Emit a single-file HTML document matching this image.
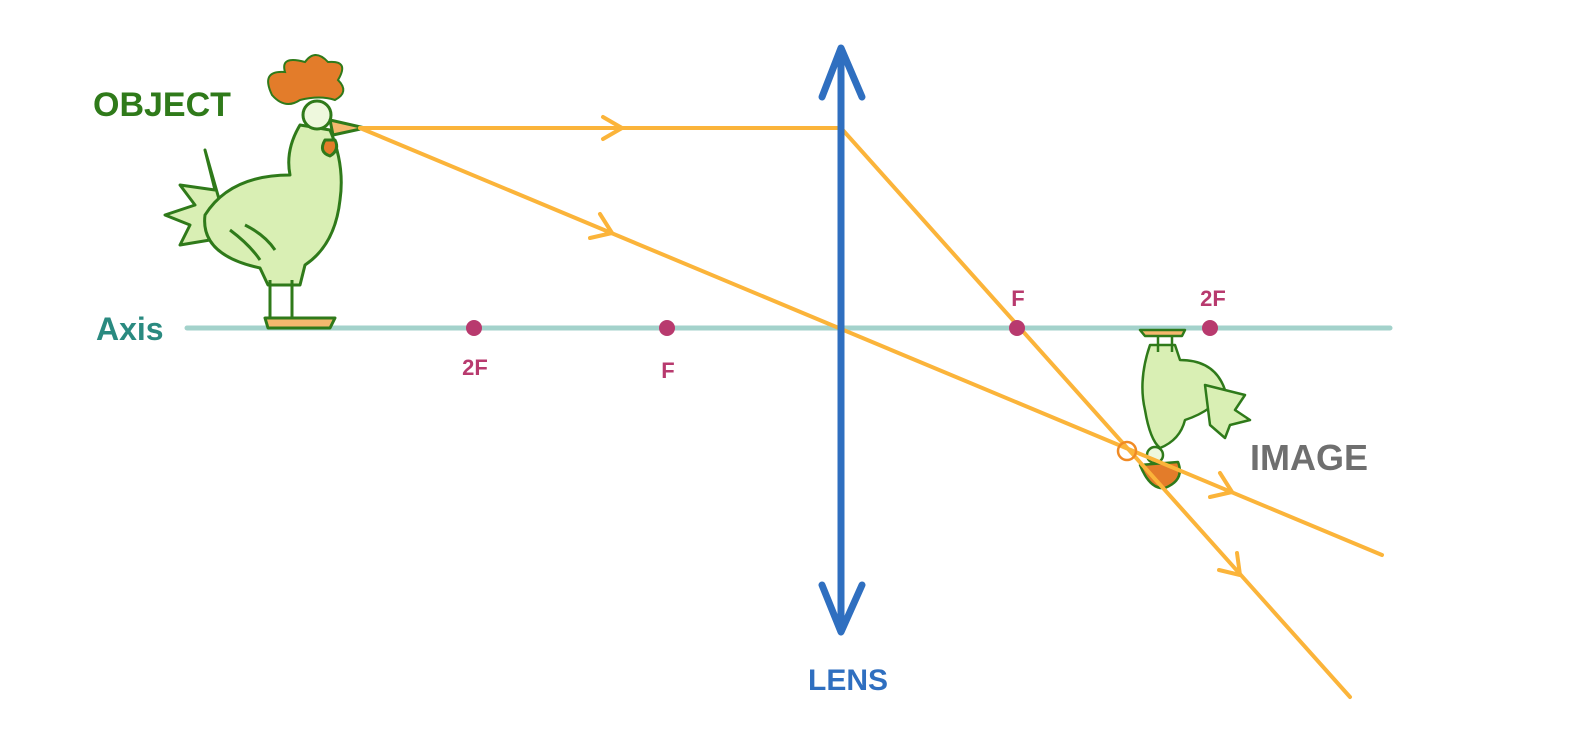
<!DOCTYPE html>
<html><head><style>html,body{margin:0;padding:0;background:#fff}svg{display:block}</style></head>
<body>
<svg width="1576" height="734" viewBox="0 0 1576 734" xmlns="http://www.w3.org/2000/svg" font-family="Liberation Sans, sans-serif" font-weight="bold">
<rect width="1576" height="734" fill="#fff"/>
<line x1="187" y1="328" x2="1390" y2="328" stroke="#a3d2cb" stroke-width="5" stroke-linecap="round"/>
<g stroke="#2f7a1a" stroke-width="3" stroke-linejoin="round" fill="#d9efb4">
 <path d="M205 150 L215 190 L180 185 L195 205 L165 215 L190 225 L180 245 L210 240 L235 255 Z"/>
 <path d="M300 125 Q285 150 290 175 Q230 175 205 215 Q200 255 260 268 L268 285 L300 285 L305 265 Q335 245 340 200 Q345 165 330 130 Z"/>
 <path d="M230 230 Q250 245 260 260 M245 225 Q265 235 275 250" fill="none"/>
 <line x1="270" y1="280" x2="270" y2="318" fill="none"/>
 <line x1="292" y1="280" x2="292" y2="318" fill="none"/>
 <path d="M265 318 L335 318 L330 328 L268 328 Z" fill="#f5b86e" stroke="#2f7a1a"/>
 <circle cx="317" cy="115" r="14" fill="#eef8dd"/>
 <path d="M330 120 L365 128 L333 135 Z" fill="#f5b86e"/>
 <path d="M325 140 Q318 152 330 156 Q340 150 335 140 Z" fill="#e37c2a"/>
</g>
<path d="M272 95 Q260 70 285 72 Q280 55 305 62 Q315 48 328 62 Q350 60 338 80 Q350 92 335 100 Q320 95 300 100 Q285 110 272 95 Z" fill="#e37c2a" stroke="#2f7a1a" stroke-width="2"/>
<g stroke="#2f7a1a" stroke-width="2.5" stroke-linejoin="round" fill="#d9efb4">
 <path d="M1150 345 Q1138 380 1145 410 Q1150 440 1160 448 Q1180 440 1185 420 Q1215 410 1225 390 Q1215 360 1180 360 L1175 345 Z"/>
 <path d="M1205 385 L1245 395 L1235 410 L1250 420 L1230 425 L1225 438 L1210 425 Z"/>
 <path d="M1140 330 L1185 330 L1182 336 L1145 336 Z" fill="#f5b86e"/>
 <line x1="1158" y1="336" x2="1158" y2="352"/>
 <line x1="1172" y1="336" x2="1172" y2="352"/>
 <circle cx="1155" cy="455" r="8" fill="#eef8dd"/>
 <path d="M1140 465 Q1150 490 1165 488 Q1185 480 1178 462 Z" fill="#e37c2a"/>
</g>
<g stroke="#fbb43a" stroke-width="4" fill="none" stroke-linecap="round" stroke-linejoin="round">
 <polyline points="360,128 841,128 1350,697"/>
 <line x1="360" y1="128" x2="1382" y2="555"/>
 <polyline points="603,117 622,128 603,139"/>
 <polyline points="600,214 612,233 590,238"/>
 <polyline points="1220,473 1232,492 1210,497"/>
 <polyline points="1237,553 1240,575 1219,570"/>
</g>
<circle cx="1127" cy="451" r="9" fill="none" stroke="#f08a24" stroke-width="2.5"/>
<g stroke="#2f6fc0" stroke-width="7" fill="none" stroke-linecap="round" stroke-linejoin="round">
 <line x1="841" y1="50" x2="841" y2="630"/>
 <polyline points="822,97 841,48 862,97"/>
 <polyline points="822,585 841,632 862,585"/>
</g>
<g fill="#b83a6e"><circle cx="474" cy="328" r="8"/><circle cx="667" cy="328" r="8"/><circle cx="1017" cy="328" r="8"/><circle cx="1210" cy="328" r="8"/></g>
<g fill="#b83a6e" font-size="22" text-anchor="middle">
 <text x="475" y="375">2F</text><text x="668" y="378">F</text><text x="1018" y="306">F</text><text x="1213" y="306">2F</text>
</g>
<text x="93" y="116" font-size="34" fill="#2f7a1a">OBJECT</text>
<text x="96" y="340" font-size="32" fill="#2a8a80">Axis</text>
<text x="808" y="690" font-size="30" fill="#2f6fc0">LENS</text>
<text x="1250" y="470" font-size="36" fill="#6f6f6f">IMAGE</text>
</svg>
</body></html>
